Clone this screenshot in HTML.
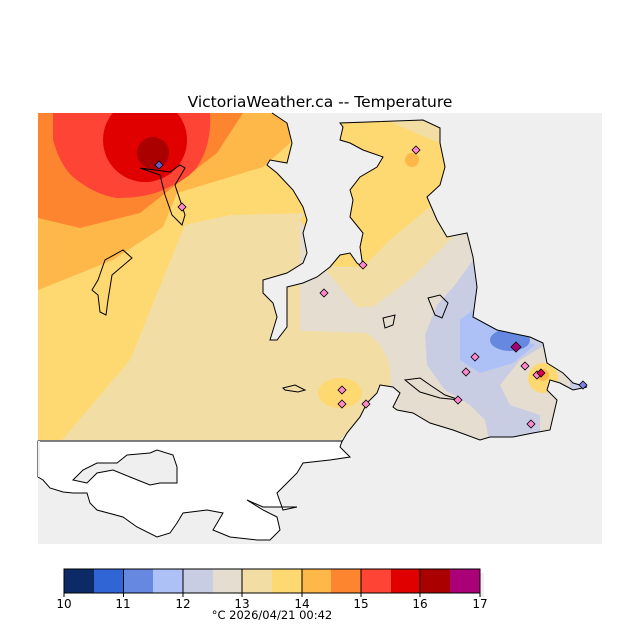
<!DOCTYPE html>
<html><head><meta charset="utf-8"><style>
html,body{margin:0;padding:0;background:#fff;width:640px;height:640px;overflow:hidden}
svg{display:block}
text{font-family:"DejaVu Sans","Liberation Sans",sans-serif;fill:#000}
</style></head><body>
<svg width="640" height="640" viewBox="0 0 640 640" xmlns="http://www.w3.org/2000/svg">
<defs>
<clipPath id="land"><polygon points="38,113 272,113 287,123 292,143 287,163 270,160 267,165 277,173 293,190 303,207 307,220 303,233 307,253 303,263 287,273 263,280 263,293 273,303 277,317 270,340 277,340 287,327 287,287 303,283 317,277 330,267 340,255 350,253 357,263 363,267 360,247 363,233 350,217 353,200 350,190 360,177 377,167 383,157 363,150 350,143 340,140 343,127 340,123 423,120 440,128 440,143 445,167 440,185 427,197 437,220 447,237 467,233 473,257 477,287 473,317 497,330 530,337 543,343 547,363 563,373 573,383 587,387 573,390 560,383 550,380 547,390 557,400 550,430 533,433 513,437 490,437 480,440 453,430 430,423 413,413 397,410 393,407 400,393 393,387 380,385 377,393 367,403 360,417 347,433 340,440 38,440"/></clipPath>
</defs>
<text x="320" y="107" font-size="15.5" text-anchor="middle">VictoriaWeather.ca -- Temperature</text>
<rect x="38" y="113" width="564" height="431" fill="#efefef"/>
<g clip-path="url(#land)">
<rect x="38" y="113" width="564" height="330" fill="#e5ddd0"/>
<polygon points="38,113 300,113 300,440 38,440" fill="#f2dea5"/>
<polygon points="38,440 62,440 130,360 185,225 230,215 310,213 310,113 38,113" fill="#fed870"/>
<polygon points="38,290 113,260 163,227 177,193 230,177 263,167 290,143 290,113 38,113" fill="#feb84a"/>
<polygon points="38,218 80,228 140,213 173,187 217,153 243,113 38,113" fill="#fe8530"/>
<path d="M53,113 L53,140 Q60,165 73,177 Q95,195 117,198 Q145,198 163,190 Q190,178 197,167 Q212,145 210,113 Z" fill="#fe4535"/>
<circle cx="145" cy="140" r="42" fill="#e00000"/>
<circle cx="153" cy="153" r="16" fill="#aa0000"/>
<polygon points="300,220 340,140 340,113 445,113 445,197 430,207 390,240 363,267 330,267" fill="#fed870"/>
<polygon points="370,113 445,113 445,145 420,135" fill="#f2dea5"/>
<polygon points="300,250 323,267 357,307 373,307 413,277 453,237 470,225 445,195 430,207 390,240 363,267 340,268" fill="#f2dea5"/>
<ellipse cx="412" cy="160" rx="7" ry="7" fill="#feb84a"/>
<path d="M280,330 L367,333 Q385,345 390,367 L393,420 L340,440 L280,440 Z" fill="#f2dea5"/>
<ellipse cx="340" cy="393" rx="22" ry="15" fill="#fed870"/>
<polygon points="473,260 455,285 437,305 425,335 427,365 445,390 470,405 485,420 490,445 540,445 540,415 510,405 500,385 520,360 545,345 540,335 500,320 480,300" fill="#c8cde3"/>
<polygon points="473,310 460,320 460,360 480,373 513,363 535,345 500,330" fill="#adc1f7"/>
<ellipse cx="510" cy="340" rx="20" ry="11" fill="#6688e0"/>
<circle cx="543" cy="378" r="15" fill="#fed870"/>
<circle cx="543" cy="375" r="6" fill="#feb84a"/>
<polygon points="570,375 590,390 570,392" fill="#c8cde3"/>
</g>
<g fill="none" stroke="#000" stroke-width="1">
<polyline points="272,113 287,123 292,143 287,163 270,160 267,165 277,173 293,190 303,207 307,220 303,233 307,253 303,263 287,273 263,280 263,293 273,303 277,317 270,340 277,340 287,327 287,287 303,283 317,277 330,267 340,255 350,253 357,263 363,267 360,247 363,233 350,217 353,200 350,190 360,177 377,167 383,157 363,150 350,143 340,140 343,127 340,123 423,120 440,128 440,143 445,167 440,185 427,197 437,220 447,237 467,233 473,257 477,287 473,317 497,330 530,337 543,343 547,363 563,373 573,383 587,387 573,390 560,383 550,380 547,390 557,400 550,430 533,433 513,437 490,437 480,440 453,430 430,423 413,413 397,410 393,407 400,393 393,387 380,385 377,393 367,403 360,417 347,433 340,445"/>
<path d="M140,168 L170,172 L180,165 L185,168 L175,185 L185,215 L182,225 L172,215 L165,195 L160,175 Z"/>
<path d="M98,280 L105,260 L123,250 L132,258 L112,275 L108,300 L106,315 L100,312 L98,295 L92,290 Z"/>
<path d="M283,388 L295,385 L305,390 L298,392 L285,390 Z"/>
<path d="M405,380 L420,378 L430,385 L445,395 L460,400 L440,398 L420,392 Z"/>
<path d="M428,298 L440,295 L448,303 L442,318 L435,315 Z"/>
<path d="M383,318 L395,315 L393,325 L385,328 Z"/>
</g>
<path d="M38,441 L342,441 L340,447 L350,457 L330,460 L303,463 L297,473 L287,483 L277,493 L283,510 L297,507 L263,507 L247,500 L263,510 L277,517 L280,530 L270,540 L257,540 L230,537 L213,530 L223,513 L207,510 L183,513 L177,523 L170,533 L157,537 L137,527 L123,517 L97,510 L90,503 L87,493 L73,493 L63,492 L50,488 L43,480 L38,477 Z" fill="#fff" stroke="#000" stroke-width="1"/>
<path d="M87,483 L73,480 L83,470 L97,463 L117,463 L127,455 L150,453 L157,450 L173,455 L177,467 L177,483 L160,483 L150,485 L130,477 L113,470 L97,473 Z" fill="#efefef" stroke="#000" stroke-width="1"/>
<rect x="38" y="441" width="2" height="36" fill="#efefef"/>
<g fill="#ff88cc" stroke="#000" stroke-width="0.8">
<path d="M159,161 l4,4 -4,4 -4,-4 z" fill="#6a5acd"/>
<path d="M182,203 l4,4 -4,4 -4,-4 z"/>
<path d="M416,146 l4,4 -4,4 -4,-4 z"/>
<path d="M363,261 l4,4 -4,4 -4,-4 z"/>
<path d="M324,289 l4,4 -4,4 -4,-4 z"/>
<path d="M475,353 l4,4 -4,4 -4,-4 z"/>
<path d="M516,342 l5,5 -5,5 -5,-5 z" fill="#aa0078"/>
<path d="M466,368 l4,4 -4,4 -4,-4 z"/>
<path d="M525,362 l4,4 -4,4 -4,-4 z"/>
<path d="M537,371 l4,4 -4,4 -4,-4 z"/>
<path d="M541,369 l4,4 -4,4 -4,-4 z" fill="#e00050"/>
<path d="M583,381 l4,4 -4,4 -4,-4 z" fill="#8080e0"/>
<path d="M342,386 l4,4 -4,4 -4,-4 z"/>
<path d="M342,400 l4,4 -4,4 -4,-4 z"/>
<path d="M366,400 l4,4 -4,4 -4,-4 z"/>
<path d="M458,396 l4,4 -4,4 -4,-4 z"/>
<path d="M531,420 l4,4 -4,4 -4,-4 z"/>
</g>
<rect x="480" y="573" width="4" height="24" fill="#efefef"/>
<g stroke="none">
<rect x="64" y="569" width="30" height="24" fill="#0c2b66"/>
<rect x="94" y="569" width="30" height="24" fill="#3065d6"/>
<rect x="124" y="569" width="29" height="24" fill="#6688e0"/>
<rect x="153" y="569" width="30" height="24" fill="#adc1f7"/>
<rect x="183" y="569" width="30" height="24" fill="#c8cde3"/>
<rect x="213" y="569" width="29" height="24" fill="#e5ddd0"/>
<rect x="242" y="569" width="30" height="24" fill="#f2dea5"/>
<rect x="272" y="569" width="30" height="24" fill="#fed870"/>
<rect x="302" y="569" width="29" height="24" fill="#feb84a"/>
<rect x="331" y="569" width="30" height="24" fill="#fe8530"/>
<rect x="361" y="569" width="30" height="24" fill="#fe4535"/>
<rect x="391" y="569" width="29" height="24" fill="#e00000"/>
<rect x="420" y="569" width="30" height="24" fill="#aa0000"/>
<rect x="450" y="569" width="30" height="24" fill="#aa0078"/>
</g>
<rect x="64" y="569" width="416" height="24" fill="none" stroke="#000" stroke-width="1"/>
<g stroke="#000" stroke-width="1">
<line x1="123.5" y1="569" x2="123.5" y2="597"/><line x1="183" y1="569" x2="183" y2="597"/>
<line x1="242" y1="569" x2="242" y2="597"/><line x1="302" y1="569" x2="302" y2="597"/>
<line x1="361" y1="569" x2="361" y2="597"/><line x1="420" y1="569" x2="420" y2="597"/>
<line x1="64" y1="593" x2="64" y2="597"/><line x1="480" y1="593" x2="480" y2="597"/>
</g>
<g font-size="12" text-anchor="middle">
<text x="64" y="608">10</text><text x="123" y="608">11</text><text x="183" y="608">12</text>
<text x="242" y="608">13</text><text x="302" y="608">14</text><text x="361" y="608">15</text>
<text x="420" y="608">16</text><text x="480" y="608">17</text>
<text x="272" y="619" font-size="11.5">°C  2026/04/21 00:42</text>
</g>
</svg>
</body></html>
